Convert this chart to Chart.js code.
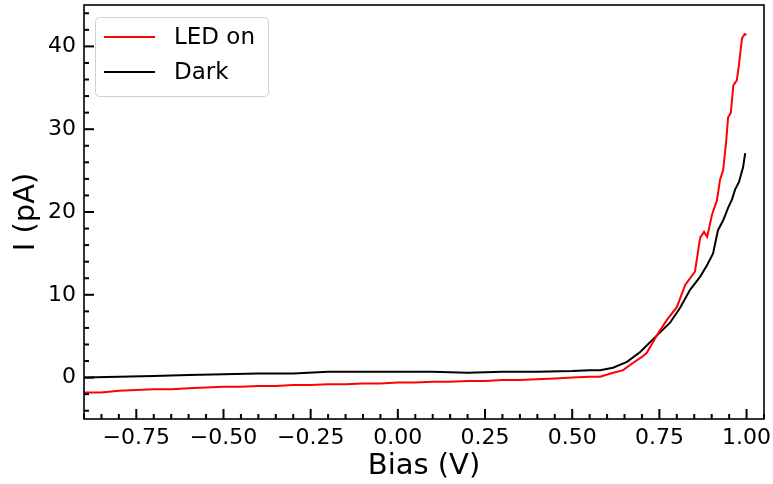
<!DOCTYPE html>
<html>
<head>
<meta charset="utf-8">
<script src="https://cdn.jsdelivr.net/npm/chart.js@4/dist/chart.umd.min.js"></script>
<style>
  html, body { margin: 0; padding: 0; background: #fff; }
  #wrap { width: 773px; height: 484px; }
</style>
</head>
<body>
<div id="wrap"><canvas id="ivCurve"></canvas></div>
<script>
// values
var biasLed = [-0.9, -0.85, -0.8, -0.75, -0.7, -0.65, -0.6, -0.55, -0.5, -0.45, -0.4, -0.35, -0.3, -0.25, -0.2, -0.15, -0.1, -0.05, 0, 0.05,
    0.1, 0.15, 0.2, 0.25, 0.3, 0.35, 0.4, 0.45, 0.5, 0.55, 0.58, 0.61, 0.646, 0.675, 0.7, 0.714, 0.743, 0.772, 0.8, 0.824,
    0.852, 0.867, 0.878, 0.887, 0.901, 0.915, 0.924, 0.933, 0.941, 0.947, 0.955, 0.962, 0.972, 0.978, 0.987, 0.995, 1.0];
var currentLed = [-1.8, -1.8, -1.6, -1.5, -1.4, -1.4, -1.3, -1.2, -1.1, -1.1, -1.0, -1.0, -0.9, -0.9, -0.8, -0.8, -0.7, -0.7, -0.6, -0.6,
    -0.5, -0.5, -0.4, -0.4, -0.3, -0.3, -0.2, -0.1, 0.0, 0.1, 0.1, 0.5, 0.9, 1.8, 2.5, 3.0, 5.1, 7.0, 8.5, 11.2,
    12.8, 16.9, 17.6, 17.0, 19.7, 21.4, 23.9, 25.1, 28.3, 31.4, 32.0, 35.3, 35.9, 37.7, 41.0, 41.5, 41.4];

var biasDark = [-0.9, -0.8, -0.7, -0.6, -0.5, -0.4, -0.3, -0.2, -0.1, 0, 0.1, 0.2, 0.3, 0.4, 0.5, 0.55, 0.58, 0.617, 0.657, 0.695,
    0.743, 0.78, 0.809, 0.838, 0.867, 0.887, 0.904, 0.918, 0.933, 0.947, 0.958, 0.967, 0.978, 0.99, 0.996];
var currentDark = [0.0, 0.1, 0.2, 0.3, 0.4, 0.5, 0.5, 0.7, 0.7, 0.7, 0.7, 0.6, 0.7, 0.7, 0.8, 0.9, 0.9, 1.2, 1.9, 3.1,
    5.1, 6.6, 8.4, 10.6, 12.2, 13.6, 15.0, 17.8, 19.0, 20.5, 21.5, 22.7, 23.6, 25.4, 27.1];

var seriesLabels = ['LED on', 'Dark'];
var seriesColors = ['#ff0000', '#000000'];

var xTicks = [-0.75, -0.5, -0.25, 0, 0.25, 0.5, 0.75, 1.0];
var yTicks = [0, 10, 20, 30, 40];

var xMin = -0.9, xMax = 1.05, xStep = 0.25, xMinor = 0.05;
var yMin = -5, yMax = 45, yStep = 10, yMinor = 2;

var FONT = '"DejaVu Sans", sans-serif';

function toPoints(xs, ys) {
    var pts = [];
    for (var i = 0; i < xs.length; i++) {
        pts.push({ x: xs[i], y: ys[i] });
    }
    return pts;
}

// frame, inward ticks (major + minor) and the boxed legend
var framePlugin = {
    id: 'frame',
    afterDraw: function (chart) {
        var ctx = chart.ctx;
        var a = chart.chartArea;
        var xs = chart.scales.x, ys = chart.scales.y;
        ctx.save();
        ctx.strokeStyle = '#000';
        ctx.lineWidth = 1.6;
        ctx.strokeRect(a.left, a.top, a.right - a.left, a.bottom - a.top);

        ctx.lineWidth = 2;
        var v, p, major;
        for (v = xMin; v <= xMax + 1e-9; v += xMinor) {
            var rv = Math.round(v * 100) / 100;
            major = Math.abs(rv / xStep - Math.round(rv / xStep)) < 1e-6;
            p = xs.getPixelForValue(rv);
            ctx.beginPath();
            ctx.moveTo(p, a.bottom);
            ctx.lineTo(p, a.bottom - (major ? 10 : 5));
            ctx.stroke();
        }
        for (v = yMin; v <= yMax; v += 1) {
            if (v % yMinor !== 0) continue;
            major = v % yStep === 0;
            p = ys.getPixelForValue(v);
            ctx.beginPath();
            ctx.moveTo(a.left, p);
            ctx.lineTo(a.left + (major ? 10 : 5), p);
            ctx.stroke();
        }

        // legend
        var bx = 95.5, by = 17.5, bw = 173, bh = 79, r = 4;
        ctx.beginPath();
        ctx.moveTo(bx + r, by);
        ctx.arcTo(bx + bw, by, bx + bw, by + bh, r);
        ctx.arcTo(bx + bw, by + bh, bx, by + bh, r);
        ctx.arcTo(bx, by + bh, bx, by, r);
        ctx.arcTo(bx, by, bx + bw, by, r);
        ctx.closePath();
        ctx.fillStyle = 'rgba(255,255,255,0.8)';
        ctx.fill();
        ctx.strokeStyle = '#d0d0d0';
        ctx.lineWidth = 1;
        ctx.stroke();

        ctx.font = '23px ' + FONT;
        ctx.textBaseline = 'middle';
        ctx.textAlign = 'left';
        var rows = [37, 72];
        chart.data.datasets.forEach(function (ds, i) {
            ctx.strokeStyle = ds.borderColor;
            ctx.lineWidth = 2;
            ctx.beginPath();
            ctx.moveTo(104, rows[i]);
            ctx.lineTo(155, rows[i]);
            ctx.stroke();
            ctx.fillStyle = '#000';
            ctx.fillText(ds.label, 174, rows[i] + 1);
        });
        ctx.restore();
    }
};

var ctxCurve = document.getElementById('ivCurve').getContext('2d');
var ivChart = new Chart(ctxCurve, {
    type: 'line',
    data: {
        datasets: [
            {
                label: seriesLabels[0],
                data: toPoints(biasLed, currentLed),
                borderColor: seriesColors[0],
                borderWidth: 2,
                pointRadius: 0,
                fill: false,
                tension: 0
            },
            {
                label: seriesLabels[1],
                data: toPoints(biasDark, currentDark),
                borderColor: seriesColors[1],
                borderWidth: 2,
                pointRadius: 0,
                fill: false,
                tension: 0
            }
        ]
    },
    options: {
        responsive: true,
        maintainAspectRatio: false,
        animation: false,
        layout: { padding: { top: 5, right: 9, left: 0, bottom: 0 } },
        plugins: {
            legend: { display: false },
            tooltip: { enabled: false }
        },
        scales: {
            x: {
                type: 'linear',
                min: xMin,
                max: xMax,
                grid: { display: false, drawTicks: false },
                border: { display: false },
                afterBuildTicks: function (s) {
                    s.ticks = xTicks.map(function (v) { return { value: v }; });
                },
                ticks: {
                    autoSkip: false,
                    maxRotation: 0,
                    padding: 6,
                    color: '#000',
                    font: { family: FONT, size: 22 },
                    callback: function (value) {
                        var s = Math.abs(value).toFixed(2);
                        return value < -1e-9 ? '\u2212' + s : s;
                    }
                },
                title: {
                    display: true,
                    text: 'Bias (V)',
                    color: '#000',
                    font: { family: FONT, size: 29 },
                    padding: { top: 0, bottom: 0 }
                },
                afterFit: function (s) {
                    s.height = 65;
                    s.paddingLeft = 0;
                    s.paddingRight = 0;
                }
            },
            y: {
                type: 'linear',
                min: yMin,
                max: yMax,
                grid: { display: false, drawTicks: false },
                border: { display: false },
                afterBuildTicks: function (s) {
                    s.ticks = yTicks.map(function (v) { return { value: v }; });
                },
                ticks: {
                    autoSkip: false,
                    padding: 8,
                    color: '#000',
                    font: { family: FONT, size: 22 }
                },
                title: {
                    display: true,
                    text: 'I (pA)',
                    color: '#000',
                    font: { family: FONT, size: 29 },
                    padding: { top: 9, bottom: 0 }
                },
                afterFit: function (s) {
                    s.width = 84;
                    s.paddingTop = 0;
                    s.paddingBottom = 0;
                }
            }
        }
    },
    plugins: [framePlugin]
});
</script>
</body>
</html>
